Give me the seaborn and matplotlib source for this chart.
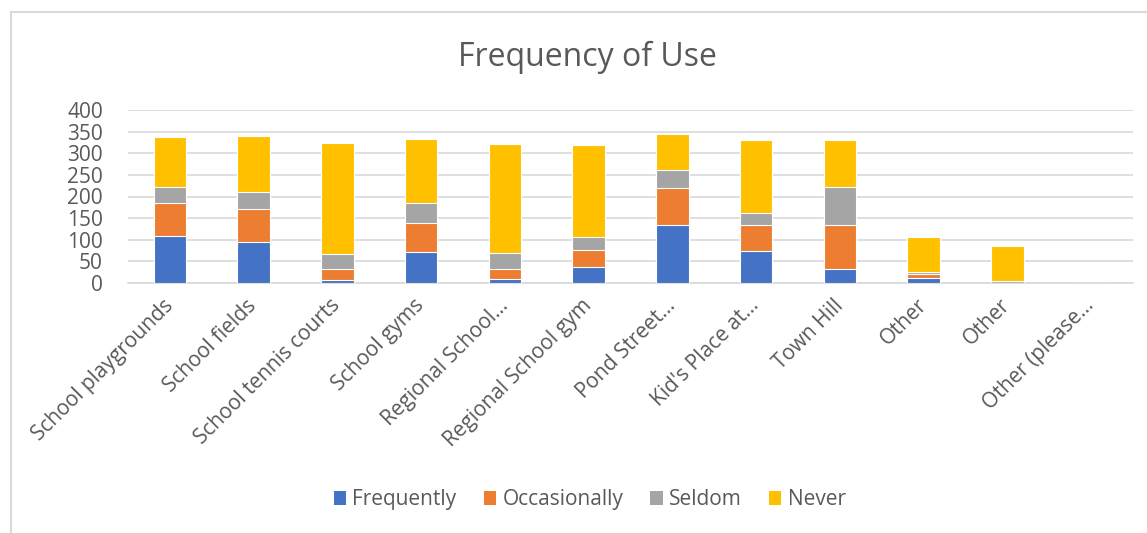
import numpy as np
import pandas as pd
import matplotlib
matplotlib.use('Agg')
import matplotlib.pyplot as plt
import seaborn as sns
from matplotlib.lines import Line2D
from matplotlib.patches import Patch

# data
places = ['School playgrounds', 'School fields', 'School tennis courts', 'School gyms',
          'Regional School...', 'Regional School gym', 'Pond Street...', "Kid's Place at...",
          'Town Hill', 'Other', 'Other', 'Other (please...']
frequently = [109, 95, 8, 72, 9, 37, 134, 74, 32, 12, 0, 0]
occasionally = [76, 76, 24, 66, 23, 39, 86, 59, 102, 9, 1, 0]
seldom = [37, 40, 35, 47, 37, 30, 41, 30, 88, 4, 4, 0]
never = [115, 130, 256, 147, 252, 214, 84, 168, 109, 81, 80, 0]

series = ['Frequently', 'Occasionally', 'Seldom', 'Never']
colors = ['#4472C4', '#ED7D31', '#A5A5A5', '#FFC000']

sns.set_style('white')
plt.rcParams['font.family'] = ['Open Sans', 'DejaVu Sans']

# unique x keys since "Other" appears twice
keys = [f'{i}' for i in range(len(places))]
values = np.array([frequently, occasionally, seldom, never])
cum = np.cumsum(values, axis=0)

fig = plt.figure(figsize=(11.47, 5.33), dpi=100)
ax = fig.add_axes([128 / 1147, 1 - 283 / 533, (1133 - 128) / 1147, (283 - 110) / 533])

# draw cumulative totals back to front so they look stacked
for i in range(len(series) - 1, -1, -1):
    df = pd.DataFrame({'place': keys, 'total': cum[i]})
    sns.barplot(data=df, x='place', y='total', color=colors[i], width=0.39,
                edgecolor='white', linewidth=0.8, saturation=1, ax=ax, zorder=3)

ax.set_ylim(0, 400)
ax.set_xlim(-0.5, len(places) - 0.5)
ax.set_yticks(range(0, 401, 50))
ax.yaxis.grid(True, color='#D9D9D9', linewidth=1.2, zorder=0)
ax.set_axisbelow(True)
for s in ['top', 'right', 'left']:
    ax.spines[s].set_visible(False)
ax.spines['bottom'].set_color('#D9D9D9')
ax.spines['bottom'].set_linewidth(1.2)
ax.set_xlabel('')
ax.set_ylabel('')
ax.set_xticks(range(len(places)))
ax.set_xticklabels(places, rotation=45, ha='right', va='center', rotation_mode='anchor')
ax.tick_params(axis='x', length=0, pad=14, labelsize=15, labelcolor='#595959')
ax.tick_params(axis='y', length=0, pad=18, labelsize=15, labelcolor='#595959')

fig.text(0.512, 0.893, 'Frequency of Use', ha='center', va='center', fontsize=23, color='#595959')

handles = [Patch(facecolor=c, edgecolor='none') for c in colors]
fig.legend(handles, series, loc='center', bbox_to_anchor=(0.514, 0.062), ncol=4,
           frameon=False, fontsize=15, labelcolor='#595959', handlelength=0.6,
           handleheight=0.6, handletextpad=0.3, columnspacing=1.3)

# chart area border (only left and top visible in the crop)
fig.add_artist(Line2D([11 / 1147, 11 / 1147], [0, 1 - 12 / 533], color='#D9D9D9', linewidth=1.5))
fig.add_artist(Line2D([11 / 1147, 1], [1 - 12 / 533, 1 - 12 / 533], color='#D9D9D9', linewidth=1.5))

fig.savefig('out.png', dpi=100)
